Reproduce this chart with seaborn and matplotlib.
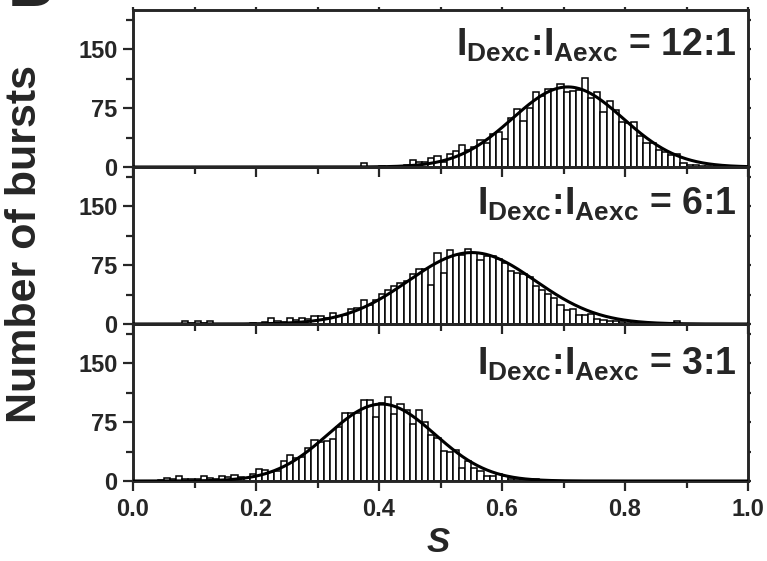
import numpy as np
import pandas as pd
import matplotlib
matplotlib.use('Agg')
import matplotlib.pyplot as plt
from matplotlib.ticker import MultipleLocator
import seaborn as sns

# burst counts per S bin (bin width 0.01, bins 0.00-0.99)
ratios = ['12:1', '6:1', '3:1']
counts_12to1 = [
    0, 0, 0, 0, 0, 0, 0, 0, 0, 0,
    0, 0, 0, 0, 0, 0, 0, 0, 0, 0,
    0, 0, 0, 0, 0, 0, 0, 0, 0, 0,
    0, 0, 0, 0, 0, 0, 0, 5, 0, 0,
    1, 0, 1, 0, 2, 9, 6, 6, 12, 14,
    6, 16, 21, 28, 22, 25, 34, 31, 42, 44,
    36, 63, 74, 58, 75, 96, 90, 99, 99, 106,
    96, 97, 98, 114, 88, 96, 70, 84, 73, 57,
    56, 57, 39, 31, 31, 22, 19, 15, 17, 5,
    3, 2, 1, 1, 0, 0, 0, 0, 0, 0]
counts_6to1 = [
    0, 0, 0, 0, 0, 0, 0, 0, 4, 1,
    4, 1, 4, 0, 0, 0, 0, 0, 0, 1,
    0, 3, 8, 4, 3, 8, 5, 8, 6, 10,
    10, 8, 14, 10, 11, 19, 20, 30, 24, 31,
    38, 43, 49, 52, 55, 64, 70, 70, 50, 91,
    65, 94, 88, 88, 95, 91, 82, 86, 86, 83,
    78, 67, 65, 64, 60, 48, 43, 38, 33, 24,
    18, 19, 12, 12, 13, 7, 5, 4, 4, 2,
    1, 1, 1, 0, 0, 0, 0, 0, 4, 0,
    0, 0, 0, 0, 0, 0, 0, 0, 0, 0]
counts_3to1 = [
    0, 0, 0, 0, 1, 4, 2, 6, 3, 3,
    2, 6, 4, 2, 6, 5, 8, 5, 4, 9,
    15, 14, 11, 13, 26, 33, 29, 30, 42, 52,
    50, 51, 53, 69, 87, 86, 86, 103, 103, 81,
    99, 107, 85, 98, 91, 72, 90, 75, 59, 55,
    38, 37, 40, 17, 25, 16, 13, 6, 7, 9,
    6, 3, 3, 3, 2, 3, 0, 0, 0, 0,
    0, 0, 0, 0, 0, 0, 0, 0, 0, 0,
    0, 0, 0, 0, 0, 0, 0, 0, 0, 0,
    0, 0, 0, 0, 0, 0, 0, 0, 0, 0]
all_counts = [counts_12to1, counts_6to1, counts_3to1]

# gaussian fit parameters
fit_height = [102, 91, 98]
fit_center = [0.707, 0.551, 0.404]
fit_sigma = [0.090, 0.103, 0.087]

label_y = [0.71, 0.694, 0.675]

bin_width = 0.01
centers = np.arange(100) * bin_width + bin_width / 2

sns.set_style('ticks')
plt.rcParams['font.family'] = ['Liberation Sans', 'DejaVu Sans']
plt.rcParams['font.weight'] = 'bold'
plt.rcParams['mathtext.fontset'] = 'custom'
plt.rcParams['mathtext.bf'] = 'Liberation Sans:bold'
plt.rcParams['mathtext.rm'] = 'Liberation Sans:bold'
plt.rcParams['mathtext.it'] = 'Liberation Sans:bold:italic'

fig, axes = plt.subplots(3, 1, figsize=(7.67, 5.61), dpi=100, sharex=True)
fig.subplots_adjust(left=133 / 767, right=748 / 767, bottom=1 - 481 / 561,
                    top=1 - 10 / 561, hspace=0)

xs = np.linspace(0, 1, 501)
for i, ax in enumerate(axes):
    ax.patch.set_visible(False)
    df = pd.DataFrame({'S': centers, 'n': all_counts[i]})
    sns.histplot(data=df, x='S', weights='n', binwidth=bin_width, binrange=(0, 1),
                 ax=ax, color='white', edgecolor='black', linewidth=1.1, alpha=1)
    fit = fit_height[i] * np.exp(-(xs - fit_center[i]) ** 2 / (2 * fit_sigma[i] ** 2))
    sns.lineplot(x=xs, y=fit, ax=ax, color='black', linewidth=2.2, zorder=5)
    ax.set_xlim(0, 1)
    ax.set_ylim(0, 200)
    ax.set_ylabel('')
    ax.set_xlabel('')
    ax.yaxis.set_minor_locator(MultipleLocator(37.5))
    ax.xaxis.set_major_locator(MultipleLocator(0.2))
    ax.xaxis.set_minor_locator(MultipleLocator(0.1))
    ax.set_yticks([0, 75, 150])
    ax.tick_params(which='major', direction='out', length=7, width=1.6,
                   labelsize=17, pad=4)
    ax.tick_params(which='minor', direction='out', length=5, width=1.6)
    ax.tick_params(which='both', top=(i == 0), right=True,
                   labeltop=False, labelright=False)
    for s in ax.spines.values():
        s.set_linewidth(2.1)
    for lab in ax.get_yticklabels():
        lab.set_fontweight('bold')
    ax.text(0.982, label_y[i],
            r'$\mathbf{I_{Dexc}}$:$\mathbf{I_{Aexc}}$ = ' + ratios[i],
            transform=ax.transAxes, ha='right', va='baseline',
            fontsize=27, fontweight='bold')

# top and right ticks are short marks only
for ax in axes:
    for t in ax.xaxis.get_ticklines(minor=False)[1::2] + ax.xaxis.get_ticklines(minor=True)[1::2]:
        t.set_markersize(2.5)
    for t in ax.yaxis.get_ticklines(minor=False)[1::2] + ax.yaxis.get_ticklines(minor=True)[1::2]:
        t.set_markersize(2.5)

axes[-1].set_xticks([0, 0.2, 0.4, 0.6, 0.8, 1.0])
axes[-1].set_xticklabels(['0.0', '0.2', '0.4', '0.6', '0.8', '1.0'])
axes[-1].tick_params(axis='x', labelsize=17, pad=5)
for lab in axes[-1].get_xticklabels():
    lab.set_fontweight('bold')

fig.text(25 / 767, 1 - 244 / 561, 'Number of bursts', rotation=90,
         ha='center', va='center', fontsize=31, fontweight='bold')
fig.text(438 / 767, 1 - 552 / 561, 'S', ha='center', va='baseline',
         fontsize=25, fontweight='bold', fontstyle='italic')
fig.text(8 / 767, 1 - 6 / 561, 'B', ha='left', va='baseline',
         fontsize=46, fontweight='bold')

fig.savefig('out.png', dpi=100)
